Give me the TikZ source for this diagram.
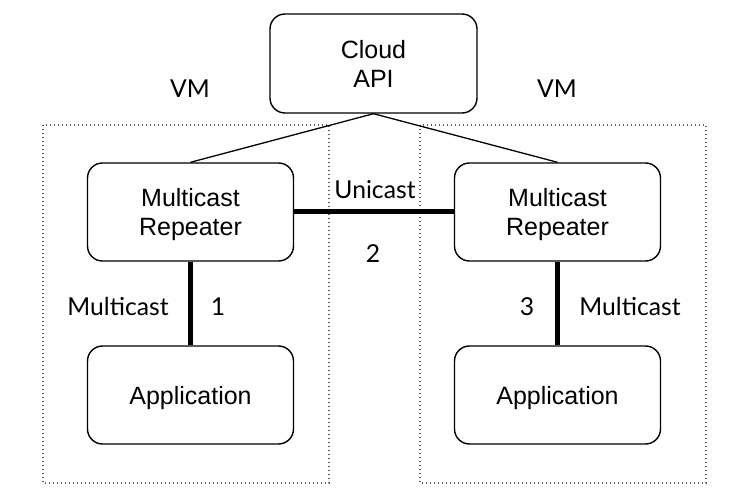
\documentclass[tikz,border=0pt]{standalone}
\usepackage{fontspec}
\setmainfont{Liberation Sans}
\newfontfamily\latofont{Lato}
\begin{document}
\begin{tikzpicture}[x=1pt,y=-1pt,
  boxnode/.style={draw=black,line width=1.4pt,rounded corners=15pt,align=center,
    font=\fontsize{25}{29}\selectfont,inner sep=0pt,text depth=0pt},
  lbl/.style={font=\latofont\fontsize{24.7}{29}\selectfont,inner sep=0pt},
  thin/.style={line width=1.3pt},
  thick5/.style={line width=5pt},
  vmbox/.style={draw=black!65,line width=1.4pt,dash pattern=on 1.4pt off 2.6pt}]
\useasboundingbox (0,0) rectangle (750,497);
% VM dotted boxes
\draw[vmbox] (43,125) rectangle (329,483);
\draw[vmbox] (420,125) rectangle (706,483);
% nodes
\node[boxnode,minimum width=207pt,minimum height=99pt] (cloud) at (373.5,63.5) {Cloud\\API};
\node[boxnode,minimum width=206pt,minimum height=98pt] (repL) at (190.5,212) {Multicast\\Repeater};
\node[boxnode,minimum width=206pt,minimum height=98pt] (repR) at (557.5,212) {Multicast\\Repeater};
\node[boxnode,minimum width=206pt,minimum height=98pt] (appL) at (190.5,395) {Application};
\node[boxnode,minimum width=206pt,minimum height=98pt] (appR) at (557.5,395) {Application};
% connectors
\draw[thin] (cloud.south) -- (repL.north);
\draw[thin] (cloud.south) -- (repR.north);
\draw[thick5] (repL.east) -- (repR.east -| repR.west);
\draw[thick5] (repL.south) -- (appL.north);
\draw[thick5] (repR.south) -- (appR.north);
% labels
\node[lbl] (vmL) at (190,89) {VM};
\node[lbl] (vmR) at (557,89) {VM};
\node[lbl] (uni) at (375,190) {Unicast};
\node[lbl] (two) at (373,254) {2};
\node[lbl] (mcL) at (118,307) {Multicast};
\node[lbl] (one) at (218,307) {1};
\node[lbl] (three) at (527,307) {3};
\node[lbl] (mcR) at (630,307) {Multicast};
\end{tikzpicture}
\end{document}
